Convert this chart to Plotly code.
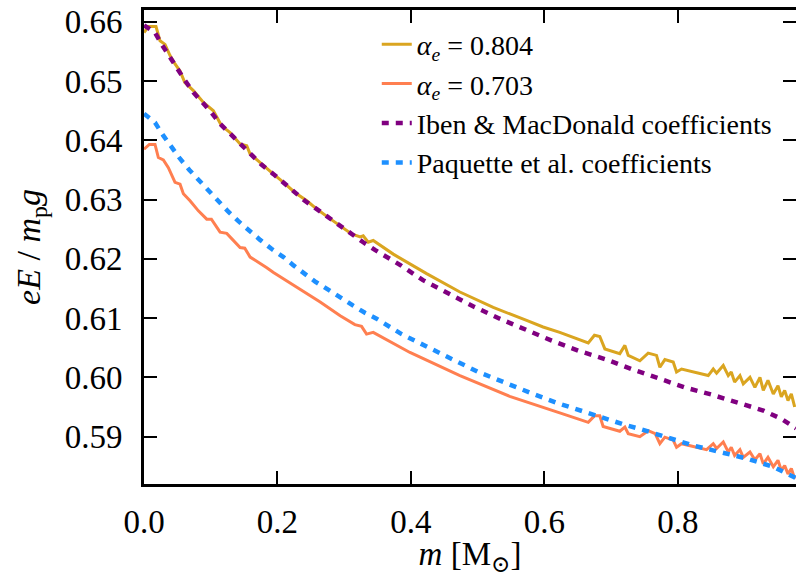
import plotly.graph_objects as go

# alpha_e = 0.804
m_804 = [0.0, 0.0065, 0.018, 0.024, 0.0315, 0.039, 0.0465, 0.054, 0.061, 0.074, 0.089, 0.104,
         0.116, 0.129, 0.144, 0.154, 0.159, 0.179, 0.194, 0.209, 0.226, 0.244, 0.259, 0.276,
         0.294, 0.311, 0.324, 0.3285, 0.336, 0.3435, 0.3735, 0.4235, 0.4734, 0.5233, 0.5733,
         0.598, 0.623, 0.6657, 0.675, 0.683, 0.6906, 0.713, 0.7206, 0.7256, 0.743, 0.7555,
         0.768, 0.773, 0.7805, 0.793, 0.798, 0.8055, 0.8455, 0.853, 0.858, 0.868, 0.8755,
         0.880, 0.885, 0.893, 0.898, 0.908, 0.9154, 0.923, 0.928, 0.935, 0.943, 0.950,
         0.955, 0.960, 0.965, 0.970, 0.975]
v_804 = [0.6582, 0.6592, 0.6592, 0.6568, 0.6562, 0.6543, 0.6529, 0.6517, 0.6498, 0.6484, 0.6464, 0.6450,
         0.6425, 0.6413, 0.6394, 0.6391, 0.6377, 0.6357, 0.6343, 0.6329, 0.6312, 0.6298, 0.6284, 0.6270,
         0.6256, 0.6242, 0.6237, 0.6239, 0.6228, 0.6231, 0.6208, 0.6175, 0.6144, 0.6118, 0.6096,
         0.6085, 0.6076, 0.6058, 0.6071, 0.6069, 0.6048, 0.6040, 0.6054, 0.6037, 0.6028, 0.6041,
         0.6037, 0.6017, 0.6030, 0.6026, 0.6009, 0.6014, 0.6003, 0.6014, 0.6007, 0.6020, 0.6003,
         0.6009, 0.5992, 0.6003, 0.5989, 0.6000, 0.5983, 0.6000, 0.5978, 0.5995, 0.5972, 0.5986,
         0.5967, 0.5978, 0.5961, 0.5972, 0.5950]

# alpha_e = 0.703
m_703 = [0.0, 0.008, 0.0165, 0.0215, 0.029, 0.0365, 0.0465, 0.054, 0.059, 0.069, 0.0815, 0.094,
         0.101, 0.114, 0.124, 0.144, 0.151, 0.159, 0.184, 0.194, 0.229, 0.264, 0.294, 0.316,
         0.326, 0.3335, 0.3435, 0.3985, 0.4734, 0.548, 0.623, 0.6657, 0.675, 0.683, 0.688,
         0.713, 0.7206, 0.7256, 0.743, 0.7555, 0.766, 0.773, 0.7805, 0.793, 0.798, 0.8055,
         0.843, 0.853, 0.858, 0.868, 0.8755, 0.880, 0.885, 0.893, 0.898, 0.908, 0.9154, 0.923,
         0.928, 0.935, 0.943, 0.950, 0.955, 0.960, 0.965, 0.970, 0.975]
v_703 = [0.6385, 0.6393, 0.6393, 0.6371, 0.6367, 0.6354, 0.6329, 0.6326, 0.6310, 0.6298, 0.6281, 0.6267,
         0.6267, 0.6245, 0.6243, 0.6219, 0.6218, 0.6203, 0.6185, 0.6177, 0.6152, 0.6127, 0.6104, 0.6089,
         0.6086, 0.6073, 0.6076, 0.6042, 0.6003, 0.5968, 0.5940, 0.5924, 0.5935, 0.5935, 0.5917,
         0.5909, 0.5916, 0.5905, 0.5900, 0.5910, 0.5905, 0.5888, 0.5899, 0.5894, 0.5882, 0.5888,
         0.5878, 0.5888, 0.5880, 0.5891, 0.5874, 0.5882, 0.5868, 0.5878, 0.5865, 0.5874, 0.5861, 0.5871,
         0.5854, 0.5865, 0.5849, 0.5860, 0.5843, 0.5851, 0.5837, 0.5846, 0.5829]

# Iben & MacDonald coefficients
m_ib = [0.0, 0.0165, 0.0265, 0.039, 0.049, 0.0615, 0.074, 0.0865, 0.101, 0.114, 0.129, 0.144,
        0.159, 0.176, 0.194, 0.209, 0.226, 0.241, 0.259, 0.276, 0.294, 0.311, 0.3285, 0.346,
        0.3835, 0.418, 0.456, 0.493, 0.533, 0.573, 0.611, 0.651, 0.693, 0.7306, 0.7705, 0.8105,
        0.850, 0.890, 0.928, 0.955, 0.977]
v_ib = [0.6594, 0.6582, 0.6562, 0.6540, 0.6520, 0.6501, 0.6481, 0.6466, 0.6447, 0.6428, 0.6411, 0.6394,
        0.6376, 0.6359, 0.6343, 0.6329, 0.6313, 0.6298, 0.6284, 0.6270, 0.6256, 0.6243, 0.6228, 0.6215,
        0.6190, 0.6164, 0.6141, 0.6120, 0.6099, 0.6079, 0.6062, 0.6045, 0.6030, 0.6014, 0.5998, 0.5983,
        0.5971, 0.5958, 0.5944, 0.5930, 0.5914]

# Paquette et al. coefficients
m_pq = [0.0, 0.0165, 0.029, 0.0415, 0.054, 0.068, 0.083, 0.0965, 0.111, 0.126, 0.141, 0.156,
        0.174, 0.191, 0.209, 0.224, 0.256, 0.276, 0.294, 0.3135, 0.331, 0.3485, 0.386, 0.4235,
        0.461, 0.501, 0.541, 0.581, 0.621, 0.661, 0.683, 0.723, 0.743, 0.783, 0.823, 0.863,
        0.903, 0.943, 0.968, 0.977]
v_pq = [0.6445, 0.6430, 0.6408, 0.6388, 0.6369, 0.6350, 0.6332, 0.6315, 0.6297, 0.6280, 0.6264, 0.6249,
        0.6232, 0.6217, 0.6203, 0.6189, 0.6162, 0.6148, 0.6136, 0.6121, 0.6109, 0.6099, 0.6073, 0.6051,
        0.6031, 0.6009, 0.5990, 0.5973, 0.5956, 0.5941, 0.5933, 0.5919, 0.5913, 0.5898, 0.5885, 0.5874,
        0.5863, 0.5849, 0.5835, 0.5830]

y_ticks = [0.59, 0.60, 0.61, 0.62, 0.63, 0.64, 0.65, 0.66]
y_labels = ["0.59", "0.60", "0.61", "0.62", "0.63", "0.64", "0.65", "0.66"]
x_ticks = [0.0, 0.2, 0.4, 0.6, 0.8]
x_labels = ["0.0", "0.2", "0.4", "0.6", "0.8"]

FONT = "'Liberation Serif', 'Times New Roman', Times, 'DejaVu Serif', serif"

fig = go.Figure()
fig.add_trace(go.Scatter(x=m_804, y=v_804, mode="lines", name="<i>α<sub>e</sub></i> = 0.804",
                         legendgroup="a", line=dict(color="#DAA520", width=3)))
fig.add_trace(go.Scatter(x=m_703, y=v_703, mode="lines", name="<i>α<sub>e</sub></i> = 0.703",
                         legendgroup="b", line=dict(color="#FF7F50", width=3)))
fig.add_trace(go.Scatter(x=m_ib, y=v_ib, mode="lines", name="Iben &amp; MacDonald coefficients",
                         legendgroup="c", line=dict(color="#800080", width=4.5, dash="7px,7px")))
fig.add_trace(go.Scatter(x=m_pq, y=v_pq, mode="lines", name="Paquette et al. coefficients",
                         legendgroup="d", line=dict(color="#1E90FF", width=4.5, dash="7px,7px")))
# empty trace to hold the right-hand tick axis
fig.add_trace(go.Scatter(x=[], y=[], yaxis="y2", showlegend=False, hoverinfo="skip"))

fig.update_layout(
    width=796, height=577,
    margin=dict(l=144, r=0, t=10, b=93),
    paper_bgcolor="white", plot_bgcolor="white",
    font=dict(family=FONT, color="black"),
    showlegend=True,
    legend=dict(x=0.357, y=0.98, xanchor="left", yanchor="top",
                font=dict(family=FONT, size=28, color="black"),
                bgcolor="rgba(0,0,0,0)", borderwidth=0,
                traceorder="grouped", tracegroupgap=0),
    xaxis=dict(range=[0, 0.977], tickvals=x_ticks, ticktext=x_labels,
               showgrid=False, zeroline=False, showline=True, linecolor="black", linewidth=3,
               mirror="ticks", ticks="inside", ticklen=13, tickwidth=2, tickcolor="black",
               tickfont=dict(family=FONT, size=33), ticklabelstandoff=6,
               title=dict(text="<i>m</i> [M<sub>⊙</sub>]", font=dict(family=FONT, size=33), standoff=8)),
    yaxis=dict(range=[0.582, 0.662], tickvals=y_ticks, ticktext=y_labels,
               showgrid=False, zeroline=False, showline=True, linecolor="black", linewidth=3,
               ticks="inside", ticklen=13, tickwidth=2, tickcolor="black",
               tickfont=dict(family=FONT, size=33), ticklabelstandoff=12,
               title=dict(text="<i>eE</i> / <i>m</i><sub>p</sub><i>g</i>", font=dict(family=FONT, size=34), standoff=14)),
    yaxis2=dict(overlaying="y", side="right", matches="y", tickvals=y_ticks,
                showticklabels=False, showgrid=False, zeroline=False, showline=False,
                ticks="inside", ticklen=13, tickwidth=2, tickcolor="black"),
)

fig.write_html("out.html")
